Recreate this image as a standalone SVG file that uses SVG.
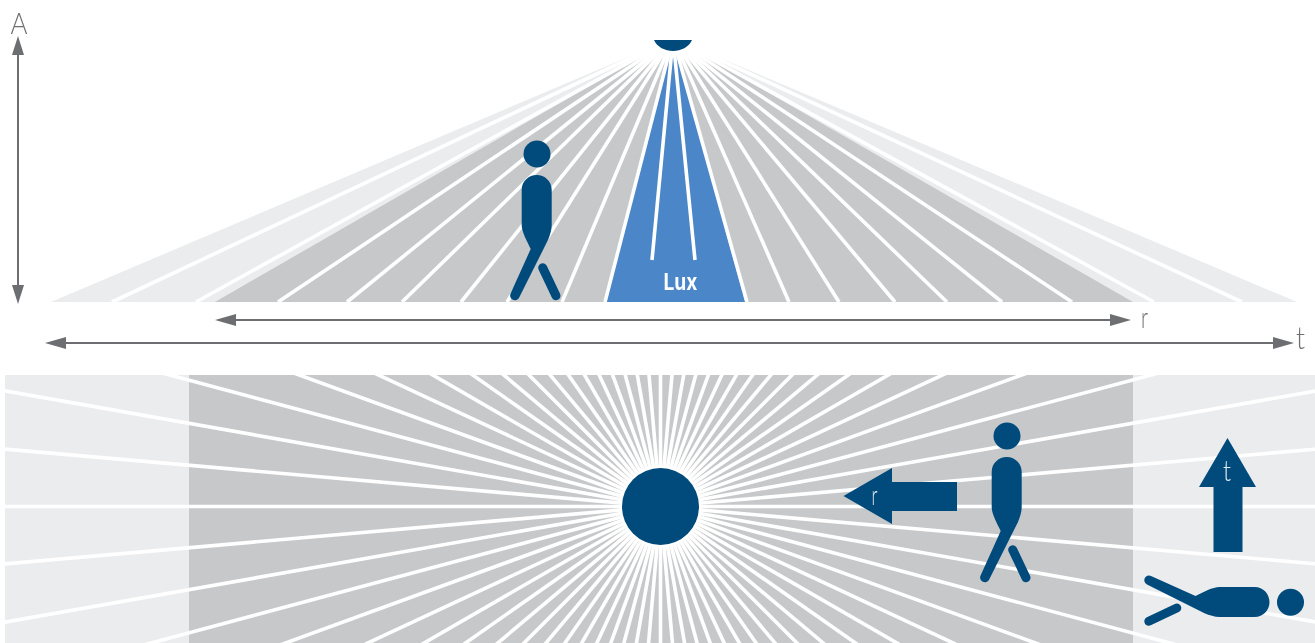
<svg xmlns="http://www.w3.org/2000/svg" width="1315" height="643" viewBox="0 0 1315 643">
<style>
.light{fill:#ebecee}.dark{fill:#c6c8ca}.blue{fill:#4a86c8}.navy{fill:#004a7c}
.ray{stroke:#fff;stroke-width:3.6;fill:none}
.dim{stroke:#6d6e71;stroke-width:2;fill:none}
.lbl{font-family:"Lato","Liberation Sans",sans-serif;font-weight:300;fill:#6d6e71}
.inv{font-family:"Lato","Liberation Sans",sans-serif;font-weight:300;fill:#e6ecf1}
.gray-aa{opacity:.99}
</style>
<defs>
<marker id="headH" markerUnits="userSpaceOnUse" markerWidth="22" markerHeight="12" refX="0" refY="6" orient="auto-start-reverse"><path d="M0 0L21 6L0 12Z" fill="#6d6e71"/></marker>
<marker id="headV" markerUnits="userSpaceOnUse" markerWidth="20" markerHeight="12" refX="0" refY="6" orient="auto-start-reverse"><path d="M0 0L19 6L0 12Z" fill="#6d6e71"/></marker>
<clipPath id="band"><rect x="5" y="375" width="1310" height="268"/></clipPath>
<filter id="soft" x="-20%" y="-40%" width="140%" height="180%"><feGaussianBlur stdDeviation="1.5"/></filter>
<g id="walker">
<circle cx="0" cy="0" r="13.5"/>
<path d="M-15.3 36C-15.3 27-8 21-.3 21C7.5 21 14.7 27 14.7 36L14.7 71C14.7 76 13 81 11 86L-17.8 143.5A4.6 4.6 0 0 1-26.4 139.5L-6.3 95C-10 87-15.3 78-15.3 71Z"/>
<line x1="5.7" y1="113.7" x2="19" y2="141.7" stroke="#004a7c" stroke-width="9" stroke-linecap="round"/>
</g>
</defs>
<g id="side-view">
<polygon class="light" points="673,38 51,302 1297,302"/>
<polygon class="dark" points="673,38 215,302 1133,302"/>
<polygon class="blue" points="673,38 606,302 745,302"/>
<g id="side-rays">
<line class="ray" x1="673" y1="38" x2="112" y2="302"/>
<line class="ray" x1="673" y1="38" x2="196" y2="302"/>
<line class="ray" x1="673" y1="38" x2="278" y2="302"/>
<line class="ray" x1="673" y1="38" x2="347" y2="302"/>
<line class="ray" x1="673" y1="38" x2="402" y2="302"/>
<line class="ray" x1="673" y1="38" x2="461" y2="302"/>
<line class="ray" x1="673" y1="38" x2="507" y2="302"/>
<line class="ray" x1="673" y1="38" x2="562" y2="302"/>
<line class="ray" x1="673" y1="38" x2="605" y2="302"/>
<line class="ray" x1="673" y1="38" x2="747" y2="302"/>
<line class="ray" x1="673" y1="38" x2="789" y2="302"/>
<line class="ray" x1="673" y1="38" x2="839" y2="302"/>
<line class="ray" x1="673" y1="38" x2="895" y2="302"/>
<line class="ray" x1="673" y1="38" x2="947" y2="302"/>
<line class="ray" x1="673" y1="38" x2="1002" y2="302"/>
<line class="ray" x1="673" y1="38" x2="1072" y2="302"/>
<line class="ray" x1="673" y1="38" x2="1154" y2="302"/>
<line class="ray" x1="673" y1="38" x2="1242" y2="302"/>
<line class="ray" x1="673" y1="38" x2="652" y2="260"/>
<line class="ray" x1="673" y1="38" x2="695" y2="260"/>
</g>
<ellipse cx="673" cy="38" rx="50" ry="15" fill="#fff" filter="url(#soft)"/>
</g>
<g id="lamp"><path class="navy" d="M654 40H692C689 47 681 51 673 51C665 51 657 47 654 40Z"/></g>
<g id="lux-label" class="gray-aa"><text x="663.5" y="290" font-family="Inter,'Liberation Sans',sans-serif" font-weight="700" font-size="23" fill="#fff" textLength="34" lengthAdjust="spacingAndGlyphs">Lux</text></g>
<g id="walker-side" class="navy"><use href="#walker" transform="translate(537 154)"/></g>
<g id="connectors">
<line class="dim" x1="18" y1="55" x2="18" y2="285" marker-start="url(#headV)" marker-end="url(#headV)"/>
<line class="dim" x1="236" y1="320" x2="1110" y2="320" marker-start="url(#headH)" marker-end="url(#headH)"/>
<line class="dim" x1="66" y1="343" x2="1273" y2="343" marker-start="url(#headH)" marker-end="url(#headH)"/>
</g>
<g id="labels" class="gray-aa">
<text class="lbl" x="10.5" y="34" font-size="29" textLength="17" lengthAdjust="spacingAndGlyphs">A</text>
<text class="lbl" x="1141" y="328" font-size="30" textLength="7" lengthAdjust="spacingAndGlyphs">r</text>
<text class="lbl" x="1296" y="349" font-size="31" textLength="9" lengthAdjust="spacingAndGlyphs">t</text>
</g>
<g id="plan-view">
<rect class="light" x="5" y="375" width="1310" height="268"/>
<rect class="dark" x="189" y="375" width="944" height="268"/>
<g id="plan-rays" clip-path="url(#band)">
<g transform="translate(660.5 506.5)">
<line class="ray" x1="-720" x2="720" transform="rotate(0)"/><line class="ray" x1="-720" x2="720" transform="rotate(5)"/><line class="ray" x1="-720" x2="720" transform="rotate(10)"/><line class="ray" x1="-720" x2="720" transform="rotate(15)"/><line class="ray" x1="-720" x2="720" transform="rotate(20)"/><line class="ray" x1="-720" x2="720" transform="rotate(25)"/><line class="ray" x1="-720" x2="720" transform="rotate(30)"/><line class="ray" x1="-720" x2="720" transform="rotate(35)"/><line class="ray" x1="-720" x2="720" transform="rotate(40)"/><line class="ray" x1="-720" x2="720" transform="rotate(45)"/><line class="ray" x1="-720" x2="720" transform="rotate(50)"/><line class="ray" x1="-720" x2="720" transform="rotate(55)"/><line class="ray" x1="-720" x2="720" transform="rotate(60)"/><line class="ray" x1="-720" x2="720" transform="rotate(65)"/><line class="ray" x1="-720" x2="720" transform="rotate(70)"/><line class="ray" x1="-720" x2="720" transform="rotate(75)"/><line class="ray" x1="-720" x2="720" transform="rotate(80)"/><line class="ray" x1="-720" x2="720" transform="rotate(85)"/><line class="ray" x1="-720" x2="720" transform="rotate(90)"/><line class="ray" x1="-720" x2="720" transform="rotate(95)"/><line class="ray" x1="-720" x2="720" transform="rotate(100)"/><line class="ray" x1="-720" x2="720" transform="rotate(105)"/><line class="ray" x1="-720" x2="720" transform="rotate(110)"/><line class="ray" x1="-720" x2="720" transform="rotate(115)"/><line class="ray" x1="-720" x2="720" transform="rotate(120)"/><line class="ray" x1="-720" x2="720" transform="rotate(125)"/><line class="ray" x1="-720" x2="720" transform="rotate(130)"/><line class="ray" x1="-720" x2="720" transform="rotate(135)"/><line class="ray" x1="-720" x2="720" transform="rotate(140)"/><line class="ray" x1="-720" x2="720" transform="rotate(145)"/><line class="ray" x1="-720" x2="720" transform="rotate(150)"/><line class="ray" x1="-720" x2="720" transform="rotate(155)"/><line class="ray" x1="-720" x2="720" transform="rotate(160)"/><line class="ray" x1="-720" x2="720" transform="rotate(165)"/><line class="ray" x1="-720" x2="720" transform="rotate(170)"/><line class="ray" x1="-720" x2="720" transform="rotate(175)"/>
</g>
</g>
</g>
<g id="lamp-plan"><circle cx="660.5" cy="506.5" r="41" fill="#fff"/><circle class="navy" cx="660.5" cy="506.5" r="38.5"/></g>
<g id="arrow-r"><path class="navy" d="M843.5 496L892 468V482H957V511H892V524Z"/><text class="inv gray-aa" x="871.5" y="505" font-size="28" textLength="6" lengthAdjust="spacingAndGlyphs">r</text></g>
<g id="walker-plan" class="navy"><use href="#walker" transform="translate(1007 436)"/></g>
<g id="arrow-t"><path class="navy" d="M1227.5 438L1256 487H1242.5V552H1213.5V487H1199Z"/><text class="inv gray-aa" x="1223" y="481" font-size="29" textLength="8" lengthAdjust="spacingAndGlyphs">t</text></g>
<g id="walker-lying" class="navy"><use href="#walker" transform="translate(1290.5 602.3) rotate(90)"/></g>
</svg>
